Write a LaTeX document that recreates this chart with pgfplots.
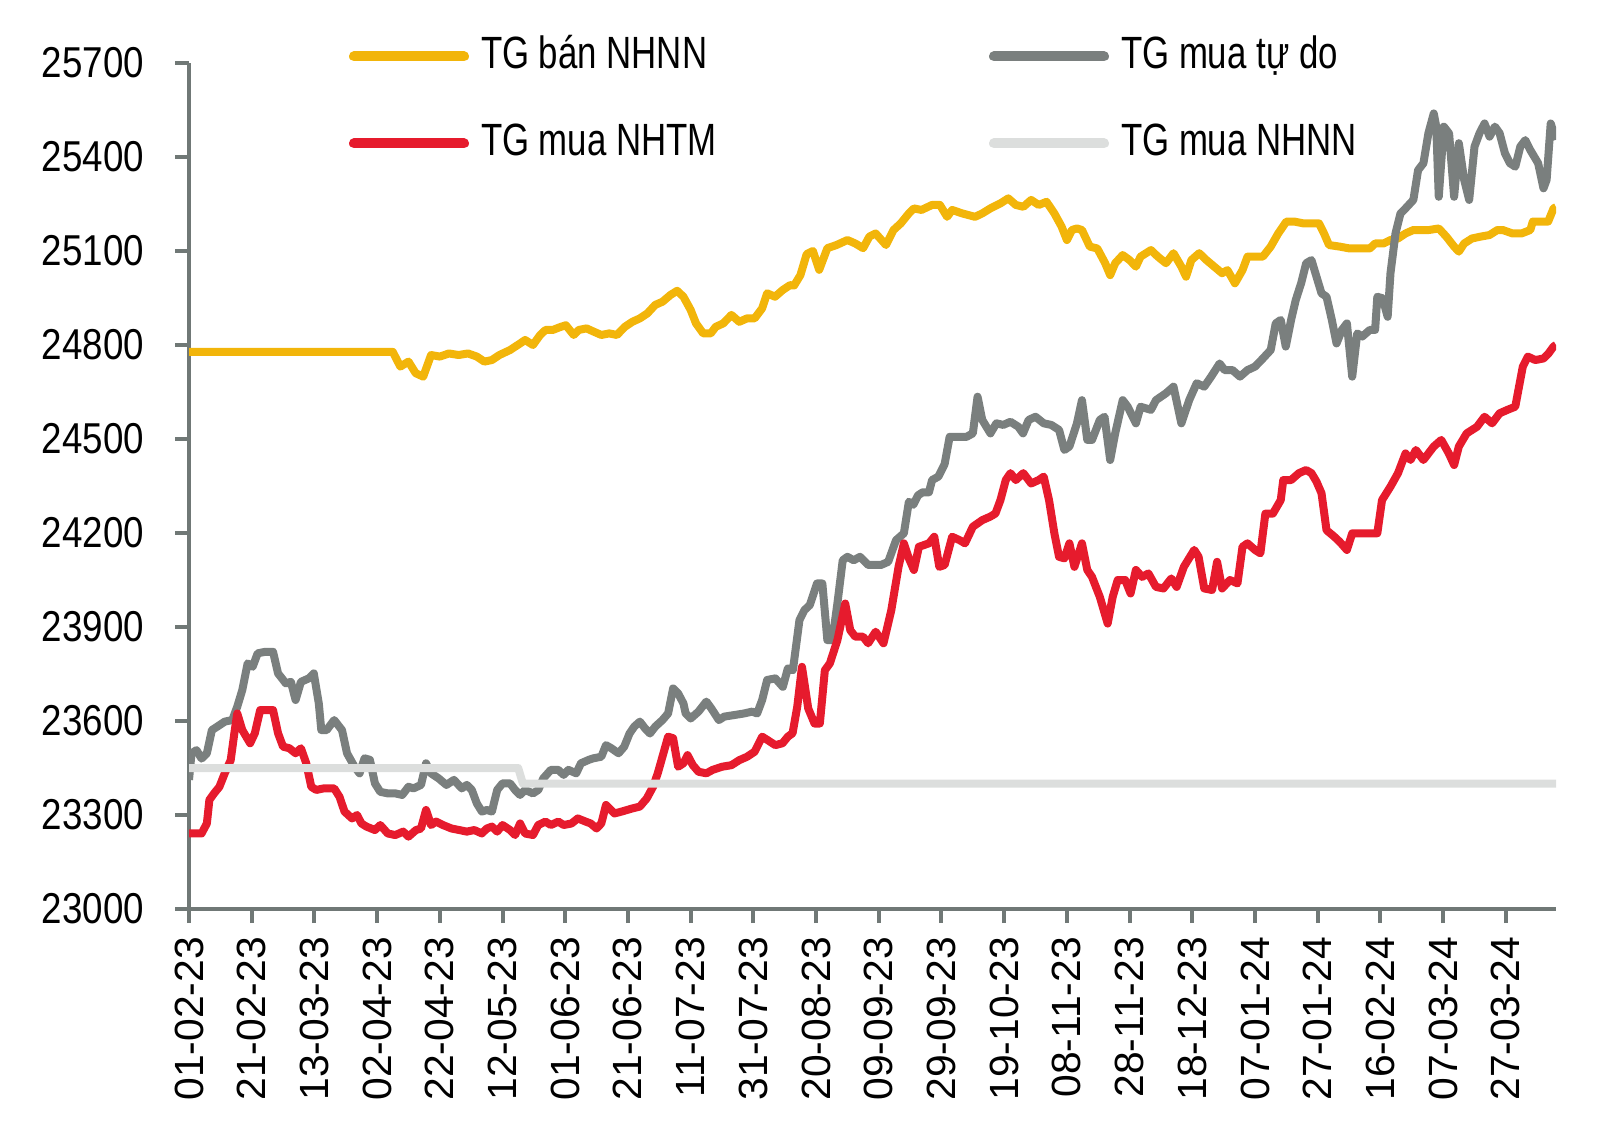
\documentclass[border=0pt]{standalone}
\usepackage{fontspec}
\setmainfont{Liberation Sans}
\newfontfamily\legendfont{Liberation Sans}[FakeStretch=0.77]
\newfontfamily\narrowfont{Liberation Sans}[FakeStretch=0.85]
\usepackage{pgfplots}
\pgfplotsset{compat=1.18}
\definecolor{cgold}{RGB}{242,181,10}
\definecolor{cred}{RGB}{230,27,45}
\definecolor{cgrey}{RGB}{122,127,126}
\definecolor{clight}{RGB}{220,222,221}
\definecolor{caxis}{RGB}{112,120,118}
\newcommand{\legbox}[1]{\makebox[100pt][l]{#1}}
\begin{document}
\begin{tikzpicture}
\begin{axis}[name=ax, scale only axis, width=341.75pt, height=211.5pt,
 xmin=0, xmax=436, ymin=23000, ymax=25700,
 axis lines=left, axis line style={-, line width=1pt, draw=caxis},
 tick style={line width=1pt, draw=caxis}, tick align=outside, major tick length=3.5pt,
 ytick={23000,23300,...,25700}, scaled y ticks=false,
 xtick={0,20,...,420},
 xticklabels={01-02-23,21-02-23,13-03-23,02-04-23,22-04-23,12-05-23,01-06-23,21-06-23,11-07-23,31-07-23,20-08-23,09-09-23,29-09-23,19-10-23,08-11-23,28-11-23,18-12-23,07-01-24,27-01-24,16-02-24,07-03-24,27-03-24},
 /pgf/number format/1000 sep={}, /pgf/number format/assume math mode=true,
 yticklabel style={font=\narrowfont\fontsize{10.8}{12}\selectfont, xshift=-4.2pt},
 xticklabel style={font=\fontsize{10.2}{12}\selectfont, rotate=90, anchor=east},
 legend columns=2,
 legend cell align=left,
 legend style={at={(axis description cs:0,1)}, anchor=north west, xshift=40pt, yshift=6.8pt, draw=none, fill=none, inner sep=0pt, outer sep=0pt, column sep=3pt, row sep=11.45pt, /tikz/every even column/.append style={column sep=27pt}, nodes={inner sep=0pt, text height=8.3pt, text depth=2pt, font=\legendfont\fontsize{11.3}{12.5}\selectfont}},
 legend image code/.code={\draw[#1, line width=2.5pt, line cap=round] (0pt,0pt) -- (27.5pt,0pt);},
 every axis plot/.append style={line width=2pt, line join=round},
]
% TG ban NHNN
\addplot[cgold] coordinates {
(0,24778)(65,24778)(67.4,24731)(70,24747)(72.3,24710)(74.7,24699)(77.2,24768)(80,24763)(82.9,24773)(86,24768)(89,24773)(91.8,24763)(94.2,24747)(96.6,24752)(99,24768)(102.4,24784)(105.6,24805)(107.2,24816)(109.7,24800)(112,24832)(113.7,24848)(116,24848)(118.6,24858)(120.2,24863)(122.7,24832)(124.3,24848)(126.8,24853)(129,24843)(131.5,24832)(134,24837)(136.5,24832)(139,24858)(141.4,24874)(143.8,24885)(146.2,24901)(148.7,24928)(151,24938)(153.6,24960)(155.7,24973)(157.7,24954)(160,24912)(161.7,24869)(164,24837)(166.4,24837)(168,24858)(170.4,24869)(173,24896)(175.5,24874)(178,24885)(180.4,24885)(182.8,24917)(184.4,24965)(186.9,24954)(189.3,24975)(191.7,24991)(193,24990)(195,25023)(197,25090)(199,25100)(201,25040)(203.6,25109)(206.5,25119)(210,25135)(212.5,25124)(215,25109)(217,25146)(219,25156)(222.3,25119)(224.7,25167)(227,25188)(229.6,25220)(231.2,25236)(233.6,25231)(237,25247)(239.5,25247)(241.8,25209)(243.4,25231)(246.6,25220)(250.7,25209)(253,25220)(255.6,25236)(258.8,25252)(261.3,25268)(263.7,25247)(266.1,25241)(268.6,25263)(271,25247)(273.5,25257)(276,25220)(278.3,25178)(280,25135)(281.6,25167)(283.2,25172)(284.8,25167)(287.3,25114)(289.7,25108)(292.2,25061)(293.8,25023)(295.4,25061)(297.8,25087)(300,25071)(302,25050)(303.5,25082)(306.8,25103)(309,25082)(311.6,25061)(314,25093)(316.5,25050)(318,25018)(319.7,25071)(322.2,25093)(324.5,25071)(327,25050)(329.5,25029)(331.2,25039)(333.6,24997)(336,25039)(337.6,25082)(340,25082)(342.5,25082)(345,25114)(347.4,25156)(350,25194)(352.5,25194)(355.5,25188)(358.8,25188)(360.4,25188)(362,25156)(363.6,25119)(367,25114)(370.2,25108)(373.5,25108)(376.6,25108)(378.3,25124)(381,25124)(383.2,25135)(385.6,25140)(388,25156)(390.5,25167)(393,25167)(395.5,25167)(398.6,25172)(401,25146)(403.5,25114)(405,25098)(406.7,25124)(409.2,25140)(412,25146)(414.8,25151)(417.3,25167)(419,25167)(422.1,25156)(425,25156)(427.8,25167)(428.6,25194)(431,25194)(433.5,25194)(435.2,25236)(436,25240)
};
\addlegendentry{\legbox{TG bán NHNN}}
% TG mua tu do
\addplot[cgrey] coordinates {
(0,23412)(0.8,23497)(2.4,23507)(4,23480)(5.7,23497)(7.3,23571)(9,23582)(11.4,23598)(13.8,23603)(15.4,23646)(17,23699)(18.7,23784)(20.3,23773)(21.9,23816)(24.4,23821)(26.8,23821)(28.4,23752)(30.9,23720)(32.5,23725)(34,23667)(35.7,23725)(38.2,23736)(39.8,23752)(41.4,23656)(42.2,23571)(43.9,23571)(46.3,23603)(48.8,23571)(50.4,23497)(52.8,23454)(54.4,23433)(56,23481)(57.7,23476)(59.3,23401)(61,23374)(63.4,23369)(65.8,23369)(68,23364)(70,23390)(71.6,23385)(74,23396)(75.6,23465)(77.2,23433)(79.6,23417)(82.1,23396)(84.5,23412)(87,23385)(88.6,23396)(90.2,23380)(91.8,23337)(93.4,23311)(95,23316)(96.6,23311)(98.3,23380)(100,23401)(102.4,23401)(104,23380)(105.6,23364)(107.2,23380)(109.7,23369)(111.4,23380)(113,23417)(115.4,23444)(117.8,23444)(119.5,23428)(121,23444)(123.5,23433)(125,23465)(127.5,23476)(129,23481)(131.5,23486)(133,23523)(134.7,23513)(137,23497)(138.8,23518)(140.5,23560)(142,23582)(143.8,23598)(145.4,23577)(147,23560)(148.7,23582)(151,23603)(152.8,23624)(154.4,23704)(156,23688)(157.7,23656)(158.4,23624)(160,23608)(162.5,23630)(165,23662)(166.6,23640)(169,23603)(170.7,23614)(173.9,23619)(177,23624)(179.6,23630)(181.2,23624)(182.8,23667)(184.4,23731)(187,23736)(189.4,23709)(191,23768)(192.6,23762)(194.7,23922)(196.3,23954)(198,23970)(200.3,24039)(202,24039)(203.6,23858)(205.2,23858)(206.8,23975)(208.5,24113)(210,24124)(212,24113)(214,24124)(216.6,24098)(220.7,24098)(223,24108)(225.5,24177)(228,24199)(229.6,24300)(231,24290)(232.5,24320)(234,24330)(236,24330)(237,24369)(239,24380)(241,24420)(242.6,24507)(245,24507)(248,24507)(250,24518)(251.5,24635)(253,24561)(255.6,24518)(257.5,24550)(259.7,24545)(262,24555)(264.5,24539)(266,24518)(267.8,24561)(270,24571)(272.6,24550)(275,24545)(277.5,24529)(279.2,24465)(280.8,24476)(283.2,24550)(284.8,24624)(286.5,24497)(288,24497)(290.5,24561)(292,24571)(293.8,24433)(295.4,24518)(297.8,24624)(299.4,24603)(302,24550)(303.5,24603)(306.8,24593)(308.4,24624)(311.6,24646)(314,24667)(316.5,24550)(319,24624)(321.4,24678)(323.8,24667)(326,24699)(328.7,24741)(330.3,24720)(332.8,24720)(335.2,24699)(337.6,24720)(340,24731)(342.5,24757)(345,24784)(346.6,24869)(348.2,24880)(349.8,24795)(351.5,24880)(353,24944)(354.7,24997)(356.3,25061)(358,25071)(359.6,25018)(361.2,24965)(362.8,24954)(364.5,24880)(366,24805)(367.7,24848)(369.3,24869)(371,24699)(372.6,24837)(374.2,24827)(376.6,24848)(378.3,24848)(379,24954)(380.7,24949)(382.3,24890)(383.2,25029)(384.8,25156)(386.4,25220)(388,25236)(390.5,25263)(392,25358)(393.7,25380)(395.3,25476)(397,25539)(397.8,25497)(398.6,25273)(400.2,25497)(401.9,25475)(403.5,25273)(405,25444)(406.7,25327)(408.3,25263)(410,25433)(411.6,25476)(413.2,25507)(414.8,25465)(416.5,25497)(418,25476)(419.7,25412)(421.3,25380)(423,25369)(424.6,25433)(426.2,25454)(427.8,25422)(430.3,25380)(432,25300)(433,25327)(434.3,25507)(436,25455)
};
\addlegendentry{\legbox{TG mua tự do}}
% TG mua NHTM
\addplot[cred] coordinates {
(0,23241)(4,23241)(5.7,23273)(6.5,23348)(8,23369)(9.7,23390)(11.4,23433)(13.3,23475)(14.6,23571)(15.4,23624)(17,23571)(19.5,23529)(21,23561)(22.7,23635)(25,23635)(26.8,23635)(28.4,23561)(30,23518)(32,23513)(34,23497)(35.7,23513)(37.4,23465)(39,23390)(40.6,23380)(43,23385)(46.3,23385)(48,23358)(49.6,23311)(52,23289)(53.6,23300)(55,23273)(56.6,23263)(59.3,23252)(61,23268)(63.4,23241)(65.8,23236)(68.3,23247)(70,23231)(72.4,23252)(74,23257)(75.6,23316)(77.2,23268)(78.8,23279)(81,23268)(83.7,23257)(86.2,23252)(88.6,23247)(91,23252)(93.4,23241)(95,23257)(96.6,23263)(98.3,23247)(100,23268)(102.4,23252)(104,23236)(105.6,23273)(107.2,23241)(109.7,23236)(111.4,23268)(113.7,23279)(115.4,23268)(117.8,23279)(119.5,23268)(122,23273)(124,23289)(126.5,23279)(128.1,23273)(130,23257)(131.5,23273)(133,23332)(135.7,23305)(138,23311)(141.4,23321)(143.8,23327)(146,23353)(148,23390)(149.5,23433)(151,23486)(152.8,23550)(154.4,23545)(156,23454)(157.7,23465)(159,23491)(160.7,23459)(162.5,23438)(165,23433)(167,23444)(170,23454)(173,23459)(175.5,23475)(178,23486)(180.4,23502)(182.8,23550)(184.4,23540)(187,23523)(189.3,23529)(191,23550)(192.5,23561)(194,23646)(195.5,23773)(197.5,23640)(199.5,23592)(201.2,23592)(202.8,23762)(204.4,23784)(206.8,23858)(209.3,23975)(210.9,23890)(212.5,23869)(215,23869)(216.6,23848)(219,23885)(221.5,23848)(224,23954)(226.3,24092)(228,24167)(229.6,24119)(231.2,24082)(232.8,24156)(236,24167)(237.7,24188)(239.3,24092)(241,24098)(243.4,24188)(245.8,24177)(247.5,24167)(250,24220)(253,24241)(255.5,24252)(257.2,24262)(258.8,24305)(260.5,24369)(262,24391)(263.7,24369)(266.1,24391)(268.6,24358)(271,24369)(272.6,24380)(274.3,24305)(276,24199)(277.5,24124)(279.2,24119)(280.8,24167)(282.4,24092)(284.8,24167)(286.5,24082)(288,24060)(290.5,23996)(293,23911)(294.6,23996)(296.2,24050)(298.6,24050)(300.3,24007)(302,24082)(304,24060)(306,24071)(308.4,24028)(310.8,24023)(313.3,24055)(315,24028)(317.3,24092)(320.6,24146)(322,24124)(323.8,24023)(326.3,24018)(327.9,24108)(329.5,24023)(332,24050)(334.4,24039)(336,24156)(337.6,24167)(340,24146)(341.7,24135)(343.3,24262)(345.7,24262)(348.2,24305)(349,24369)(351.5,24369)(354,24391)(356.3,24401)(358,24391)(359.6,24364)(361.2,24327)(362.8,24209)(365.3,24188)(367,24172)(369.3,24146)(371,24199)(374.6,24199)(379,24199)(380.5,24305)(383.2,24348)(385.6,24391)(388,24454)(389.6,24433)(391.3,24465)(393.7,24433)(397,24476)(399.4,24497)(401.8,24454)(403.5,24417)(405,24476)(407.5,24518)(410.8,24539)(413.2,24571)(415.6,24550)(418,24582)(420.5,24593)(423,24603)(425.4,24731)(427,24763)(429.4,24752)(432,24757)(433.6,24773)(435.2,24795)(436,24800)
};
\addlegendentry{\legbox{TG mua NHTM}}
% TG mua NHNN
\addplot[clight] coordinates {
(0,23450)(105,23450)(106.5,23400)(436,23400)
};
\addlegendentry{\legbox{TG mua NHNN}}
\end{axis}
\path ([xshift=-47.25pt,yshift=-56.25pt]ax.south west) rectangle ([xshift=11pt,yshift=15.75pt]ax.north east);
\end{tikzpicture}
\end{document}
